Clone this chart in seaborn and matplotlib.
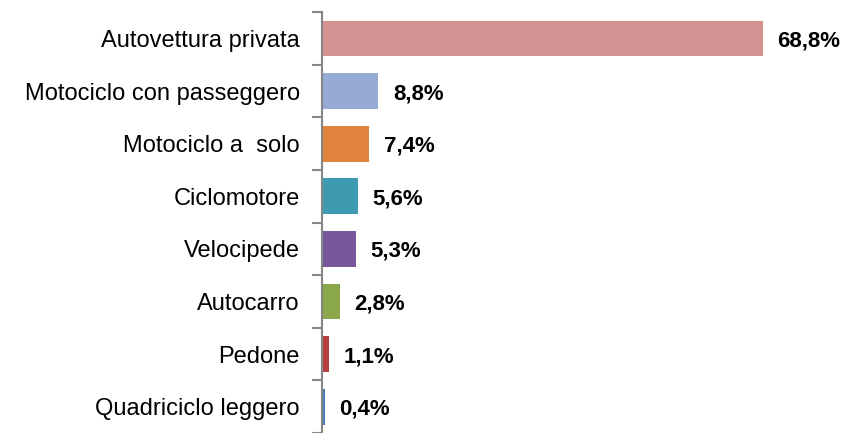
import matplotlib
matplotlib.use("Agg")
import matplotlib.pyplot as plt
import seaborn as sns
import pandas as pd
import numpy as np

categories = ["Autovettura privata", "Motociclo con passeggero", "Motociclo a  solo",
              "Ciclomotore", "Velocipede", "Autocarro", "Pedone", "Quadriciclo leggero"]
values = [68.8, 8.8, 7.4, 5.6, 5.3, 2.8, 1.1, 0.4]
labels = ["68,8%", "8,8%", "7,4%", "5,6%", "5,3%", "2,8%", "1,1%", "0,4%"]
colors = ["#D39292", "#95ABD4", "#E0843D", "#3E9AB1", "#77599B", "#8BA84D", "#B5403D", "#4A7CBA"]

sns.set_theme(style="white")
plt.rcParams['font.family'] = ['Liberation Sans', 'DejaVu Sans']

df = pd.DataFrame({"cat": categories, "val": values})
fig = plt.figure(figsize=(8.48, 4.33), dpi=100)
ax = fig.add_axes([0.3797, 0.0, 0.62, 0.972])
sns.barplot(data=df, y="cat", x="val", hue="cat", palette=colors, orient="h",
            width=0.68, legend=False, ax=ax, saturation=1, linewidth=0)
ax.set_xlim(0, (848 - 322) / 6.41)
ax.set_ylim(len(categories) - 0.5, -0.5)
for i, (v, l) in enumerate(zip(values, labels)):
    ax.text(v + 2.3, i + 0.05, l, va="center", ha="left", fontsize=16, fontweight="bold", color="black")
for s in ["top", "right", "bottom"]:
    ax.spines[s].set_visible(False)
ax.spines["left"].set_color("#868686")
ax.spines["left"].set_linewidth(1.5)
ax.set_xticks([])
ax.set_xlabel("")
ax.set_ylabel("")
ax.tick_params(axis="y", which="major", left=False, length=0, pad=16, labelsize=17, labelcolor="black")
ax.set_yticks(np.arange(-0.5, len(categories), 1.0), minor=True)
ax.tick_params(axis="y", which="minor", left=True, length=7, width=1.5, color="#868686", direction="out")
fig.savefig("out.png", dpi=100)
